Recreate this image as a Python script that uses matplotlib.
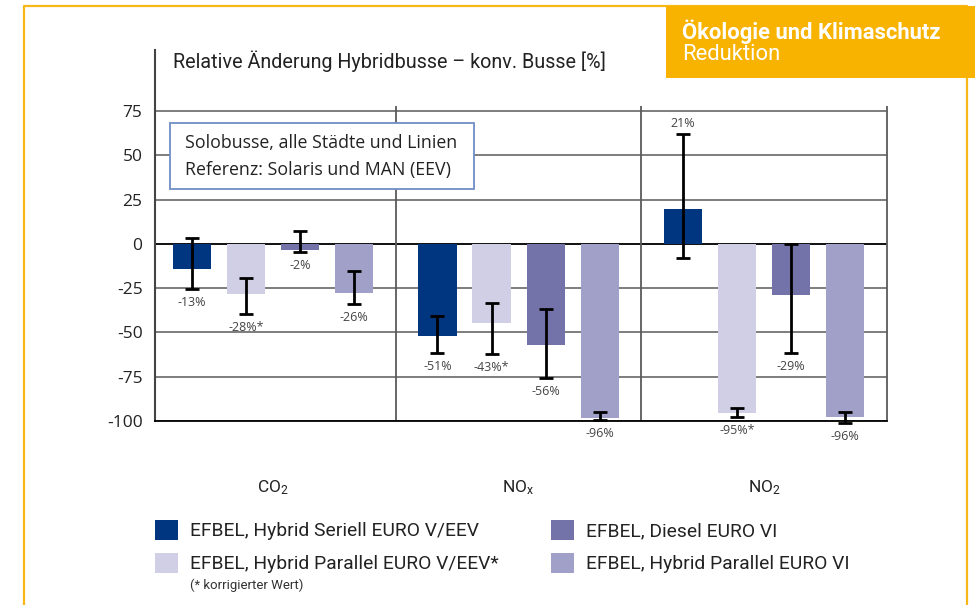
import numpy as np
import matplotlib; matplotlib.use("Agg")
import matplotlib.pyplot as plt
from matplotlib import font_manager as fm
from matplotlib.patches import Rectangle, Patch
from matplotlib.lines import Line2D

names = {f.name for f in fm.fontManager.ttflist}
NARROW = "Liberation Sans Narrow" if "Liberation Sans Narrow" in names else "Roboto"
ROUND = "Open Sans" if "Open Sans" in names else "DejaVu Sans"
plt.rcParams["font.family"] = [ROUND, "DejaVu Sans"]
plt.rcParams["mathtext.default"] = "regular"
plt.rcParams["axes.unicode_minus"] = False

groups = ["CO$_2$", "NO$_x$", "NO$_2$"]
series = ["EFBEL, Hybrid Seriell EURO V/EEV", "EFBEL, Hybrid Parallel EURO V/EEV*",
          "EFBEL, Diesel EURO VI", "EFBEL, Hybrid Parallel EURO VI"]
colors = ["#003580", "#D0CFE5", "#7473A9", "#A1A0C8"]
# bar ends
vals = [[-14, -52, 20], [-28, -44.5, -95.5], [-3.5, -57, -29], [-27.5, -98.5, -98]]
err_lo = [[-25.5, -61.5, -8], [-39.5, -62, -97.5], [-4.5, -75.5, -61.5], [-34, -99.5, -101]]
err_hi = [[3.5, -40.5, 62], [-19, -33.5, -92.5], [7.5, -36.5, 0], [-15.5, -95, -95]]
labels = [["-13%", "-51%", "21%"], ["-28%*", "-43%*", "-95%*"],
          ["-2%", "-56%", "-29%"], ["-26%", "-96%", "-96%"]]
yticks = [-100, -75, -50, -25, 0, 25, 50, 75]

W, H = 975, 605
fig = plt.figure(figsize=(W / 100, H / 100), dpi=100)
def fx(x): return x / W
def fy(y): return 1 - y / H

ax = fig.add_axes([fx(155), fy(421), fx(887) - fx(155), fy(50) - fy(421)])
ax.set_xlim(-0.48, 2.5); ax.set_ylim(-100, 109.6)
x = np.arange(len(groups))
bw, step = 0.155, 0.22
for i, (v, lo, hi, c, lab) in enumerate(zip(vals, err_lo, err_hi, colors, labels)):
    xs = x + (i - 1.5) * step
    v, lo, hi = map(np.array, (v, lo, hi))
    ax.bar(xs, v, width=bw, color=c, zorder=2)
    ax.errorbar(xs, v, yerr=[v - lo, hi - v], fmt="none", ecolor="black",
                elinewidth=2.0, capsize=4.8, capthick=2.0, zorder=4, clip_on=False)
    for xi, vi, l, h, t in zip(xs, v, lo, hi, lab):
        if vi > 0:
            ax.annotate(t, (xi, max(vi, h)), xytext=(0, 3), textcoords="offset points",
                        ha="center", va="bottom", fontsize=9, color="#444", annotation_clip=False)
        else:
            ax.annotate(t, (xi, min(vi, l)), xytext=(0, -5), textcoords="offset points",
                        ha="center", va="top", fontsize=9, color="#444", annotation_clip=False)

ax.set_yticks(yticks)
ax.yaxis.grid(True, color="#5a5a5a", lw=1.1, zorder=0)
ax.set_axisbelow(True)
ax.axhline(0, color="black", lw=1.2, zorder=1)
ax.vlines([0.5, 1.5, 2.5], -100, 78, color="#5a5a5a", lw=1.3, zorder=1, clip_on=False)
for s in ("top", "right"):
    ax.spines[s].set_visible(False)
ax.spines["left"].set_color("#444"); ax.spines["left"].set_linewidth(1.5)
ax.spines["bottom"].set_color("black"); ax.spines["bottom"].set_linewidth(1.3)
ax.tick_params(axis="y", length=0, pad=9, labelsize=12.5, labelcolor="#222")
ax.set_xticks(x)
ax.set_xticklabels(groups, fontsize=12.5, family=[NARROW, "DejaVu Sans"], color="#222")
ax.tick_params(axis="x", length=0, pad=41)

# title
fig.text(fx(173), fy(61), "Relative Änderung Hybridbusse – konv. Busse [%]",
         family=[NARROW, "DejaVu Sans"], fontsize=14.2, va="center", color="#222")
# info box
fig.patches.append(Rectangle((fx(170), fy(189)), fx(474) - fx(170), fy(123) - fy(189),
                             transform=fig.transFigure, fc="white", ec="#6F8FC4", lw=1.3, zorder=3))
fig.text(fx(185), fy(143), "Solobusse, alle Städte und Linien", fontsize=12.8, va="center", color="#222", zorder=4)
fig.text(fx(185), fy(170), "Referenz: Solaris und MAN (EEV)", fontsize=12.8, va="center", color="#222", zorder=4)

# orange frame and header box
fig.add_artist(Line2D([fx(24), fx(24), fx(967), fx(967)], [fy(640), fy(6), fy(6), fy(640)],
                      transform=fig.transFigure, color="#F8B716", lw=1.6, zorder=5))
fig.patches.append(Rectangle((fx(666), fy(78)), fx(1000) - fx(666), fy(6) - fy(78),
                             transform=fig.transFigure, fc="#F8B200", ec="none", zorder=6))
fig.text(fx(682), fy(32), "Ökologie und Klimaschutz", color="white", fontsize=15.8,
         fontweight="bold", family=["Roboto", "DejaVu Sans"], va="center", zorder=7)
fig.text(fx(682), fy(55), "Reduktion", color="white", fontsize=15.8,
         family=["Roboto", "DejaVu Sans"], va="center", zorder=7)

# legend (two single-column legends)
handles = [Patch(fc=c, ec="none") for c in colors]
for k, xl in ((0, 155), (2, 551)):
    lg = fig.legend(handles[k:k + 2], series[k:k + 2], loc="upper left",
                    bbox_to_anchor=(fx(xl), fy(520)), frameon=False, borderpad=0, borderaxespad=0,
                    prop={"family": [NARROW, "DejaVu Sans"], "size": 13.9},
                    handlelength=1.2, handleheight=1.2, handletextpad=0.6, labelspacing=0.65)
    for t in lg.get_texts():
        t.set_color("#222")
fig.text(fx(190), fy(585), "(* korrigierter Wert)", family=[NARROW, "DejaVu Sans"],
         fontsize=9.5, va="center", color="#333")

fig.savefig("out.png", dpi=100)
